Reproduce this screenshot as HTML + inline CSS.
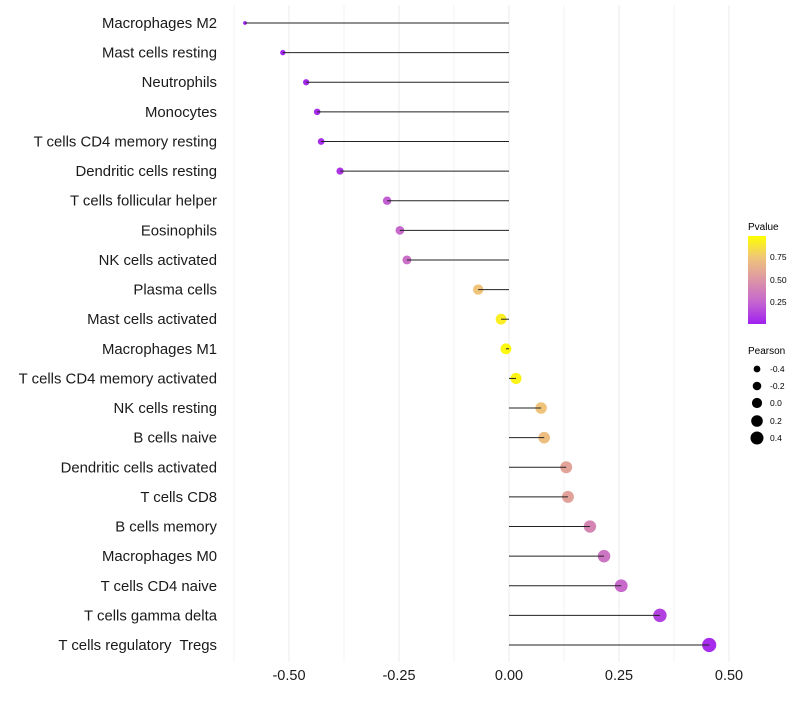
<!DOCTYPE html>
<html><head><meta charset="utf-8"><style>
body{margin:0;background:#fff;font-family:"Liberation Sans",sans-serif}
</style></head><body>
<svg id="chart" width="800" height="700" xmlns="http://www.w3.org/2000/svg">
<defs><linearGradient id="pg" x1="0" y1="1" x2="0" y2="0">
<stop offset="0" stop-color="#a020f0"/><stop offset="0.25" stop-color="#c566cf"/><stop offset="0.5" stop-color="#dc95a6"/><stop offset="0.75" stop-color="#efc47a"/><stop offset="1" stop-color="#ffff00"/></linearGradient></defs>
<g id="grid"></g><g id="marks"></g><g id="axes"></g>
<g>
<text x="748" y="230" font-size="10" fill="#000">Pvalue</text>
<rect x="748" y="236" width="18" height="88" fill="url(#pg)"/>
<text x="770" y="260" font-size="8.5">0.75</text>
<text x="770" y="283" font-size="8.5">0.50</text>
<text x="770" y="305" font-size="8.5">0.25</text>
</g>
<g>
<text x="748" y="354" font-size="10">Pearson</text>
<circle cx="757" cy="369" r="3.4" fill="#000"/><text x="770" y="372" font-size="8.5">-0.4</text>
<circle cx="757" cy="386" r="4.3" fill="#000"/><text x="770" y="389" font-size="8.5">-0.2</text>
<circle cx="757" cy="403" r="5.1" fill="#000"/><text x="770" y="406" font-size="8.5">0.0</text>
<circle cx="757" cy="421" r="5.8" fill="#000"/><text x="770" y="424" font-size="8.5">0.2</text>
<circle cx="757" cy="438" r="6.5" fill="#000"/><text x="770" y="441" font-size="8.5">0.4</text>
</g>
</svg>
<script>
const categories=["Macrophages M2","Mast cells resting","Neutrophils","Monocytes","T cells CD4 memory resting","Dendritic cells resting","T cells follicular helper","Eosinophils","NK cells activated","Plasma cells","Mast cells activated","Macrophages M1","T cells CD4 memory activated","NK cells resting","B cells naive","Dendritic cells activated","T cells CD8","B cells memory","Macrophages M0","T cells CD4 naive","T cells gamma delta","T cells regulatory  Tregs"];
const pearson=[-0.6,-0.514,-0.461,-0.436,-0.427,-0.384,-0.277,-0.248,-0.232,-0.07,-0.018,-0.007,0.016,0.073,0.08,0.13,0.134,0.184,0.216,0.255,0.343,0.455];
const pvalue=[0.0,0.02,0.03,0.04,0.05,0.08,0.22,0.27,0.3,0.75,0.93,0.97,0.95,0.75,0.72,0.58,0.57,0.42,0.33,0.27,0.12,0.04];
const xTicks=[-0.5,-0.25,0,0.25,0.5];
const xTickLabels=["-0.50","-0.25","0.00","0.25","0.50"];
const NS="http://www.w3.org/2000/svg";
const X=v=>509+v*440;
const Y=i=>23+i*(622/21);
const R=v=>Math.sqrt(Math.max(1.5,30+44*v));
const stops=[[0,[160,32,240]],[0.25,[197,102,207]],[0.5,[220,149,166]],[0.75,[239,196,122]],[1,[255,255,0]]];
function col(p){for(let k=0;k<stops.length-1;k++){const a=stops[k],b=stops[k+1];if(p<=b[0]){const t=(p-a[0])/(b[0]-a[0]);return "rgb("+a[1].map((c,j)=>Math.round(c+(b[1][j]-c)*t)).join(",")+")";}}return "rgb(255,255,0)";}
function mk(t,a,p){const e=document.createElementNS(NS,t);for(const k in a)e.setAttribute(k,a[k]);p.appendChild(e);return e;}
const grid=document.getElementById('grid'),marks=document.getElementById('marks'),axes=document.getElementById('axes');
for(let v=-0.625;v<=0.55;v+=0.125){const g=mk('line',{x1:X(v),x2:X(v),y1:5,y2:662,stroke:'#ebebeb','stroke-width':Math.abs((v*4)%1)<1e-6?1:0.6},grid);

}
categories.forEach((c,i)=>{
const y=Y(i);
const t=mk('text',{x:217,y:y+5,'text-anchor':'end','font-size':14.9,fill:'#1a1a1a',style:'white-space:pre'},axes);t.textContent=c;


const dot=mk('circle',{cx:X(pearson[i]),cy:y,r:R(pearson[i]),fill:col(pvalue[i])},marks);


const ln=mk('line',{x1:X(pearson[i]),x2:X(0),y1:y,y2:y,stroke:'#222','stroke-width':1},marks);


});
xTicks.forEach((v,i)=>{const t=mk('text',{x:X(v),y:680,'text-anchor':'middle','font-size':14.5,fill:'#1a1a1a'},axes);t.textContent=xTickLabels[i];

});
</script>
</body></html>
